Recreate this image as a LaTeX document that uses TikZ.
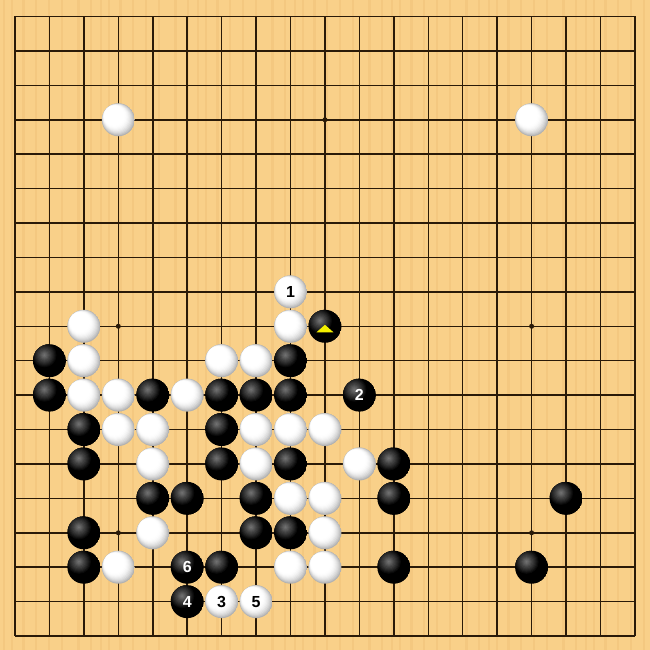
\documentclass[tikz,border=0pt]{standalone}
\usepackage{fontspec}
\usetikzlibrary{calc}
\newfontfamily\numfont{Liberation Sans}
\definecolor{wood}{HTML}{F9D089}
\definecolor{woodline}{HTML}{F4C880}
\definecolor{gridcol}{HTML}{2A1A08}
\definecolor{trimark}{HTML}{F4F000}
\tikzset{
  stonebase/.style={circle, minimum size=33pt, inner sep=0pt, font=\numfont\bfseries\fontsize{16}{16}\selectfont},
  bst/.style={stonebase, text=white, path picture={
      \fill[black] (path picture bounding box.center) circle (16.6pt);
      \foreach \k in {1,...,11}{
        \pgfmathsetmacro\R{13.2-1.1*\k}
        \pgfmathsetmacro\g{100-4.0*\k}
        \fill[black!\g!white] ([shift={(-5pt,5.5pt)}]path picture bounding box.center) circle (\R pt);
      }
    }},
  wst/.style={stonebase, text=black, path picture={
      \fill[black!30!white] (path picture bounding box.center) circle (16.6pt);
      \foreach \k in {1,...,12}{
        \pgfmathsetmacro\R{16.5-0.62*\k}
        \pgfmathsetmacro\d{(16.5-\R)*0.64}
        \pgfmathsetmacro\m{max(0,1-\k/10)}
        \pgfmathsetmacro\g{30*\m*\m}
        \fill[black!\g!white] ([shift={(-\d pt,\d pt)}]path picture bounding box.center) circle (\R pt);
      }
    }},
  gridline/.style={gridcol, line width=1.5pt},
  hoshi/.style={fill=gridcol, circle, inner sep=0pt, minimum size=5pt}
}
\begin{document}
\begin{tikzpicture}[x=1pt,y=1pt]
\useasboundingbox (0,0) rectangle (650,-650);
\fill[wood] (0,0) rectangle (650,-650);
\foreach \i/\w in {3/2,11/1.5,22/2.5,35/1.5,48/2,61/1.5,77/2.5,90/1.5}{
  \foreach \k in {0,97,194,291,388,485,582}{
    \fill[woodline] (\i+\k,0) rectangle ++(\w,-650);
  }
}
\begin{scope}[shift={(15,-16.5)}, x=34.44pt, y=-34.42pt]
  \foreach \i in {0,...,18}{
    \draw[gridline] (\i,0) -- (\i,18);
    \draw[gridline] (0,\i) -- (18,\i);
  }
  \foreach \a in {3,9,15}{\foreach \b in {3,9,15}{\node[hoshi] (h\a\b) at (\a,\b) {};}}
  \foreach \c/\r in {4/4,16/4,9/10,3/10,3/11,7/11,8/11,3/12,4/12,6/12,4/13,5/13,8/13,9/13,10/13,5/14,8/14,11/14,9/15,10/15,5/16,10/16,4/17,9/17,10/17}{
    \node[wst] (w\c-\r) at (\c-1,\r-1) {};
  }
  \foreach \c/\r in {10/10,2/11,9/11,2/12,5/12,7/12,8/12,9/12,3/13,7/13,3/14,7/14,9/14,12/14,5/15,6/15,8/15,12/15,17/15,3/16,8/16,9/16,3/17,7/17,12/17,16/17}{
    \node[bst] (b\c-\r) at (\c-1,\r-1) {};
  }
  \node[wst] (m1) at (8,8) {1};
  \node[bst] (m2) at (10,11) {2};
  \node[wst] (m3) at (6,17) {3};
  \node[bst] (m4) at (5,17) {4};
  \node[wst] (m5) at (7,17) {5};
  \node[bst] (m6) at (5,16) {6};
\end{scope}
\fill[trimark] ($(b10-10.center)+(-8.5,-6)$) -- ($(b10-10.center)+(8.5,-6)$) -- ($(b10-10.center)+(0,1.5)$) -- cycle;
\end{tikzpicture}
\end{document}
